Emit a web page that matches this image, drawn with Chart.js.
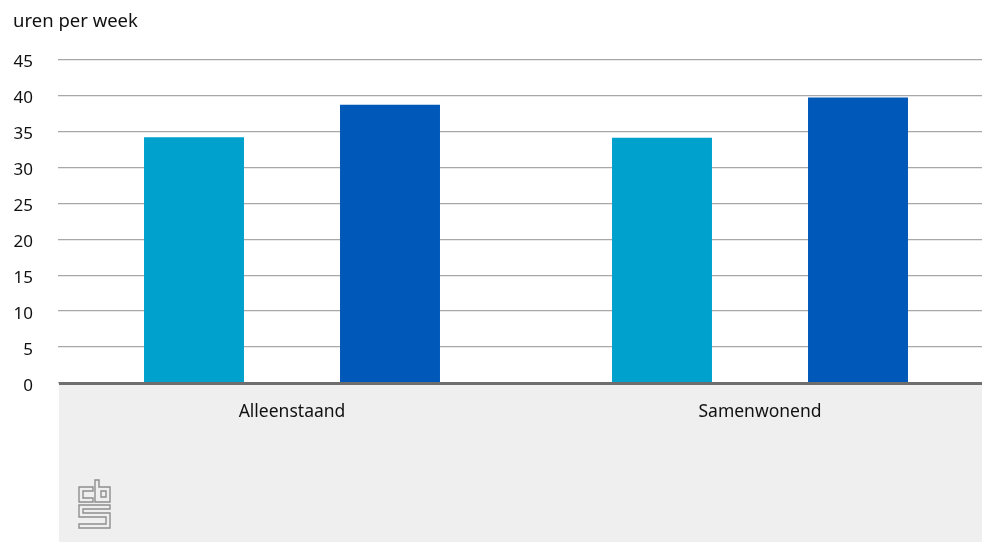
<!DOCTYPE html>
<html>
<head>
<meta charset="utf-8">
<script src="https://cdn.jsdelivr.net/npm/chart.js@4"></script>
<style>
html,body{margin:0;padding:0;background:#fff;overflow:hidden;}
#wrap{width:982px;height:542px;position:relative;overflow:hidden;}
#c{position:absolute;left:0;top:0;}
</style>
</head>
<body>
<div id="wrap"><canvas id="c" width="994" height="542" style="width:994px;height:542px"></canvas></div>
<script>
const categories = ["Alleenstaand", "Samenwonend"];
const seriesA = [34.2, 34.1];
const seriesB = [38.7, 39.7];
const yTicks = [0, 5, 10, 15, 20, 25, 30, 35, 40, 45];
const yTitle = "uren per week";

const FONT = "'Noto Sans', sans-serif";

const bgPlugin = {
  id: 'bgPlugin',
  beforeDraw(chart) {
    const {ctx, chartArea} = chart;
    ctx.save();
    ctx.fillStyle = '#efefef';
    ctx.fillRect(59, chartArea.bottom, chart.width - 59, chart.height - chartArea.bottom);
    ctx.fillStyle = '#111';
    ctx.font = "18.5px " + FONT;
    ctx.textBaseline = 'middle';
    ctx.textAlign = 'left';
    ctx.fillText(yTitle, 13, 22);
    ctx.restore();
  },
  afterDatasetsDraw(chart) {
    const {ctx, chartArea} = chart;
    ctx.save();
    ctx.strokeStyle = '#6e6e6e';
    ctx.lineWidth = 3;
    ctx.beginPath();
    ctx.moveTo(59, chartArea.bottom + 0.5);
    ctx.lineTo(chart.width, chartArea.bottom + 0.5);
    ctx.stroke();
    // CBS logo
    const ox = 79, oy = chartArea.bottom + 97;
    const P = (pts) => {
      ctx.beginPath();
      pts.forEach((p, i) => i ? ctx.lineTo(ox + p[0], oy + p[1]) : ctx.moveTo(ox + p[0], oy + p[1]));
      ctx.closePath();
      ctx.stroke();
    };
    ctx.strokeStyle = '#8f8f8f';
    ctx.lineWidth = 1.4;
    P([[14,7],[0,7],[0,22],[14,22],[14,18],[4,18],[4,11],[14,11]]);
    P([[16,22],[16,0],[20,0],[20,7],[31,7],[31,22]]);
    P([[22,11],[27,11],[27,17],[22,17]]);
    P([[0,25],[31,25],[31,29],[4,29],[4,33],[31,33],[31,48],[0,48],[0,44],[27,44],[27,37],[0,37]]);
    ctx.restore();
  }
};

new Chart(document.getElementById('c'), {
  type: 'bar',
  data: {
    labels: categories,
    datasets: [
      { label: 'A', data: seriesA, backgroundColor: '#00a1cd', borderWidth: 0 },
      { label: 'B', data: seriesB, backgroundColor: '#0058b8', borderWidth: 0 }
    ]
  },
  options: {
    responsive: false,
    animation: false,
    events: [],
    devicePixelRatio: 1,
    layout: { padding: { left: 0, right: 0, top: 59.5, bottom: 0 } },
    datasets: { bar: { categoryPercentage: 0.8376, barPercentage: 0.51 } },
    plugins: {
      legend: { display: false },
      tooltip: { enabled: false },
      title: { display: false }
    },
    scales: {
      x: {
        grid: { display: false, drawTicks: false },
        border: { display: false },
        ticks: { color: '#111', font: { family: FONT, size: 17.5 }, padding: 19 },
        afterFit(scale) { scale.height = 159; }
      },
      y: {
        min: 0, max: 45,
        afterBuildTicks(scale) { scale.ticks = yTicks.map(v => ({ value: v })); },
        grid: { color: '#a8a8a8', lineWidth: 1.3, drawTicks: false },
        border: { display: false },
        ticks: { color: '#111', font: { family: FONT, size: 17 }, padding: 25, labelOffset: 3 },
        afterFit(scale) { scale.width = 58; }
      }
    }
  },
  plugins: [bgPlugin]
});
</script>
</body>
</html>
